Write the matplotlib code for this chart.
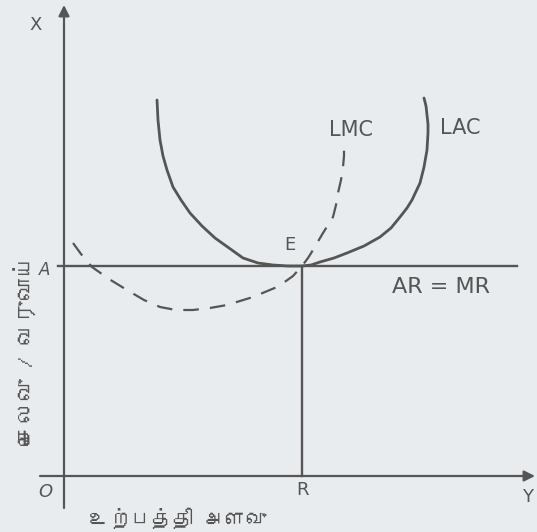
import matplotlib
matplotlib.use('Agg')
import matplotlib.pyplot as plt
from matplotlib import font_manager
from fontTools.ttLib import TTFont

# LAC (solid U) and LMC (dashed), origin at O
lac_x = [93, 94, 96, 99, 103, 109, 117, 126, 138, 151, 165, 179, 194, 209, 224, 238,
         247, 256, 270, 283, 300, 316, 327, 336, 343, 348, 356, 360, 363, 364, 364, 363, 362, 360]
lac_y = [376, 356, 336, 320, 306, 289, 276, 263, 250, 238, 228, 218, 213, 211, 210, 210,
         211, 214, 218, 223, 230, 239, 248, 259, 268, 276, 293, 309, 326, 343, 352, 361, 370, 378]
lmc_x = [9, 17, 28, 45, 63, 80, 96, 112, 129, 146, 163, 176, 189, 201, 213, 222, 229,
         238, 244, 249, 259, 269, 272, 274, 277, 279, 280, 280]
lmc_y = [233, 222, 209, 197, 186, 176, 169, 166, 166, 168, 171, 175, 179, 184, 189, 195, 200,
         210, 218, 226, 243, 259, 271, 283, 296, 309, 320, 331]

price_level = 210      # A, AR = MR
output_eq = 238        # R
x_end, y_end = 471, 471

x_label = 'உற்பத்தி அளவு'
y_label = 'செலவு / வருவாய்'

INK = '#555555'
BG = '#e9ecee'


def find_tamil_font():
    for f in font_manager.fontManager.ttflist:
        try:
            cmap = TTFont(f.fname, fontNumber=0, lazy=True).getBestCmap()
        except Exception:
            continue
        if cmap and 0x0B9A in cmap and 0x0BB5 in cmap:
            return f.name
    return None


tamil = find_tamil_font()
tamil_family = [tamil, 'DejaVu Sans'] if tamil else ['DejaVu Sans']

fig = plt.figure(figsize=(5.37, 5.32), dpi=100, facecolor=BG)
ax = fig.add_axes([0, 0, 1, 1])
ax.set_facecolor(BG)
ax.set_xlim(-64, 473)
ax.set_ylim(-56, 476)
ax.axis('off')

# axes with arrow heads
arrow = dict(arrowstyle='-|>', color=INK, lw=1.6, mutation_scale=16, shrinkA=0, shrinkB=0)
ax.annotate('', xy=(0, y_end), xytext=(0, -32), arrowprops=arrow)
ax.annotate('', xy=(x_end, 0), xytext=(-24, 0), arrowprops=arrow)

# AR = MR line and R line
ax.plot([-6, 453], [price_level, price_level], color=INK, lw=1.7)
ax.plot([output_eq, output_eq], [0, price_level], color=INK, lw=1.7)

ax.plot(lac_x, lac_y, color=INK, lw=2.0, solid_capstyle='round', solid_joinstyle='round')
ax.plot(lmc_x, lmc_y, color=INK, lw=1.6, linestyle=(0, (7, 5)), dash_joinstyle='round')

txt = dict(color=INK, fontsize=13, ha='center', va='center', family='DejaVu Sans')
ax.text(-28, 451, 'X', **txt)
ax.text(-19, 206, 'A', color=INK, fontsize=12, ha='center', va='center', style='italic')
ax.text(-19, -16, 'O', color=INK, fontsize=13, ha='center', va='center', style='italic')
ax.text(239, -14, 'R', **txt)
ax.text(464, -21, 'Y', **txt)
ax.text(226, 231, 'E', **txt)
ax.text(287, 346, 'LMC', color=INK, fontsize=15, ha='center', va='center')
ax.text(396, 348, 'LAC', color=INK, fontsize=15, ha='center', va='center')
ax.text(377, 189, 'AR = MR', color=INK, fontsize=16, ha='center', va='center')

ax.text(114, -42, x_label, color=INK, fontsize=15, ha='center', va='center', family=tamil_family)
ax.text(-38, 126, y_label, color=INK, fontsize=16, ha='center', va='center',
        rotation=90, family=tamil_family)

fig.savefig('out.png', dpi=100, facecolor=BG)
